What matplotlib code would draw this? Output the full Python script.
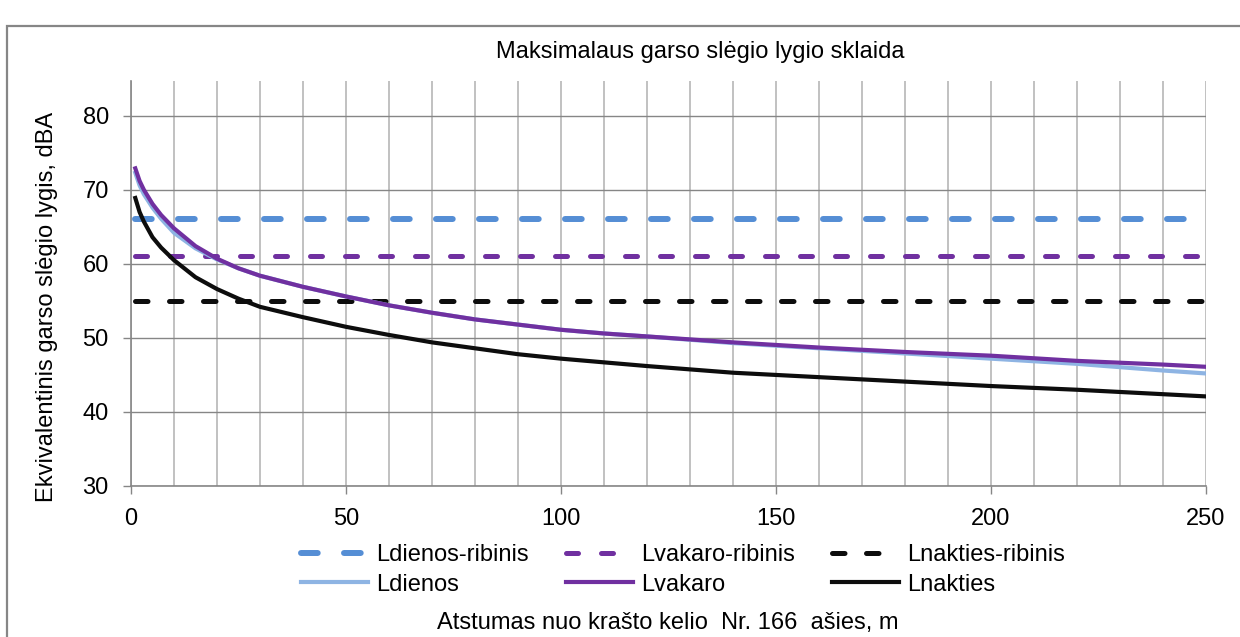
import matplotlib
matplotlib.use('Agg')
import matplotlib.pyplot as plt
from matplotlib.patches import Rectangle
from matplotlib.ticker import MultipleLocator

plt.rcParams['font.family'] = ['Liberation Sans', 'DejaVu Sans']

# atstumas nuo kelio asies, m
atstumas = [1, 2, 3, 5, 7, 10, 15, 20, 25, 30, 40, 50, 60, 70, 80, 90, 100,
            110, 120, 140, 160, 180, 200, 220, 240, 250]
ldienos = [72.3, 70.6, 69.4, 67.6, 66.1, 64.2, 62.1, 60.6, 59.4, 58.4, 56.9, 55.6, 54.4,
           53.4, 52.5, 51.8, 51.1, 50.6, 50.2, 49.3, 48.6, 47.9, 47.2, 46.5, 45.6, 45.2]
lvakaro = [72.9, 71.2, 70.0, 68.1, 66.6, 64.8, 62.4, 60.7, 59.4, 58.4, 56.9, 55.6, 54.4,
           53.4, 52.5, 51.8, 51.1, 50.6, 50.2, 49.4, 48.7, 48.1, 47.6, 46.9, 46.4, 46.1]
lnakties = [68.9, 67.0, 65.7, 63.6, 62.2, 60.5, 58.2, 56.6, 55.3, 54.2, 52.8, 51.5, 50.4,
            49.4, 48.6, 47.8, 47.2, 46.7, 46.2, 45.3, 44.7, 44.1, 43.5, 43.0, 42.4, 42.1]
# ribines vertes
ribinis_x = [1, 250]
ldienos_rib = 66
lvakaro_rib = 61
lnakties_rib = 55

fig = plt.figure(figsize=(12.4, 6.37), dpi=100)
ax = fig.add_axes([131/1240, 1-486/637, 1075/1240, 405/637])

l1, = ax.plot(ribinis_x, [ldienos_rib]*2, color='#558ED5', lw=4.3,
              linestyle=(0, (2.8, 4.4)), dash_capstyle='round', label='Ldienos-ribinis')
l2, = ax.plot(ribinis_x, [lvakaro_rib]*2, color='#7030A0', lw=3.6,
              linestyle=(0, (2.4, 4.6)), dash_capstyle='round', label='Lvakaro-ribinis')
l3, = ax.plot(ribinis_x, [lnakties_rib]*2, color='#0D0D0D', lw=3.6,
              linestyle=(0, (2.5, 4.3)), dash_capstyle='round', label='Lnakties-ribinis')
l4, = ax.plot(atstumas, ldienos, color='#8EB4E3', lw=3.0, label='Ldienos')
l5, = ax.plot(atstumas, lvakaro, color='#7030A0', lw=3.0, label='Lvakaro')
l6, = ax.plot(atstumas, lnakties, color='#0D0D0D', lw=3.0, label='Lnakties')

ax.set_xlim(0, 250)
ax.set_ylim(30, 84.7)
ax.xaxis.set_major_locator(MultipleLocator(50))
ax.xaxis.set_minor_locator(MultipleLocator(10))
ax.yaxis.set_major_locator(MultipleLocator(10))
ax.grid(axis='x', which='both', color='#B0B0B0', lw=1.1)
ax.grid(axis='y', which='major', color='#868686', lw=1.0)
ax.set_axisbelow(True)
for s in ['top', 'right']:
    ax.spines[s].set_visible(False)
for s in ['left', 'bottom']:
    ax.spines[s].set_color('#868686')
    ax.spines[s].set_linewidth(1.2)
ax.tick_params(axis='both', which='major', direction='out', length=6, width=1,
               color='#868686', labelsize=17)
ax.tick_params(axis='y', pad=10)
ax.tick_params(axis='x', pad=10)
ax.tick_params(axis='x', which='minor', length=0)

fig.text(700/1240, 1-52/637, 'Maksimalaus garso slėgio lygio sklaida', fontsize=17,
         ha='center', va='center')
fig.text(47/1240, 1-307/637, 'Ekvivalentinis garso slėgio lygis, dBA', fontsize=17,
         rotation=90, ha='center', va='center')
fig.text(668/1240, 1-623/637, 'Atstumas nuo krašto kelio  Nr. 166  ašies, m', fontsize=17,
         ha='center', va='center')

fig.legend(handles=[l1, l4, l2, l5, l3, l6], ncol=3, loc='center left',
           bbox_to_anchor=(301/1240, 1-570/637), frameon=False, fontsize=17,
           borderpad=0, borderaxespad=0, handlelength=2.85, handletextpad=0.35,
           columnspacing=1.55, labelspacing=0.3)

# remelis aplink diagrama
fig.patches.append(Rectangle((7/1240, -0.1), 1.2, 1.1-26/637, transform=fig.transFigure,
                             fill=False, edgecolor='#868686', lw=1.6))

fig.savefig('out.png', dpi=100)
